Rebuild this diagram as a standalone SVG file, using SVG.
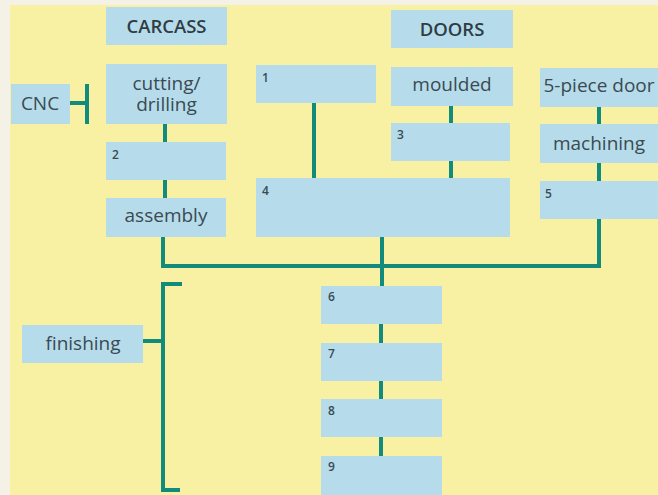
<svg xmlns="http://www.w3.org/2000/svg" width="658" height="495" viewBox="0 0 658 495">
<style>
.box{fill:#b6dceb}
.t{font-family:"Open Sans","Noto Sans",sans-serif;font-size:19px;fill:#3b4a52;text-anchor:middle}
.h{font-family:"Open Sans","Noto Sans",sans-serif;font-size:18.5px;font-weight:600;fill:#2f3c44;text-anchor:middle}
.n{font-family:"Open Sans","Noto Sans",sans-serif;font-size:12px;font-weight:600;fill:#3b4a52}
.c{stroke:#128a7c;stroke-width:4;fill:none}
</style>
<rect x="0" y="0" width="658" height="495" fill="#f4f2e6"/>
<rect x="10" y="5" width="648" height="490" fill="#f8f0a2"/>
<g id="connectors">
<path class="c" d="M65,103 H87 M87,84 V124"/>
<path class="c" d="M165,120 V145 M165,176 V202"/>
<path class="c" d="M314,99 V182"/>
<path class="c" d="M451,101 V127 M451,157 V183"/>
<path class="c" d="M599,102 V129 M599,159 V186"/>
<path class="c" d="M163,232 V266 H599 V215"/>
<path class="c" d="M382,233 V289"/>
<path class="c" d="M381,319 V347 M381,376 V403 M381,433 V459"/>
<path class="c" d="M138,341 H163 M182,284 H163 V490 H180"/>
</g>
<g id="carcass"><rect class="box" x="106" y="7" width="121" height="38"/><text class="h" x="166.5" y="33">CARCASS</text></g>
<g id="doors"><rect class="box" x="391" y="10" width="122" height="38"/><text class="h" x="452" y="36">DOORS</text></g>
<g id="cnc"><rect class="box" x="11" y="84" width="59" height="40"/><text class="t" x="40" y="110">CNC</text></g>
<g id="cutting"><rect class="box" x="106" y="64" width="121" height="60"/><text class="t" x="166.5" y="90">cutting/</text><text class="t" x="166.5" y="111">drilling</text></g>
<g id="n2"><rect class="box" x="106" y="142" width="120" height="38"/><text class="n" x="112" y="159">2</text></g>
<g id="assembly"><rect class="box" x="106" y="198" width="120" height="39"/><text class="t" x="166" y="222">assembly</text></g>
<g id="n1"><rect class="box" x="256" y="65" width="120" height="38"/><text class="n" x="262" y="82">1</text></g>
<g id="n4"><rect class="box" x="256" y="178" width="254" height="59"/><text class="n" x="262" y="195">4</text></g>
<g id="moulded"><rect class="box" x="391" y="67" width="122" height="39"/><text class="t" x="452" y="91">moulded</text></g>
<g id="n3"><rect class="box" x="391" y="123" width="119" height="38"/><text class="n" x="397" y="139">3</text></g>
<g id="fivepiece"><rect class="box" x="540" y="68" width="118" height="39"/><text class="t" x="599" y="92">5-piece door</text></g>
<g id="machining"><rect class="box" x="540" y="124" width="118" height="39"/><text class="t" x="599" y="150">machining</text></g>
<g id="n5"><rect class="box" x="540" y="181" width="118" height="38"/><text class="n" x="545" y="198">5</text></g>
<g id="n6"><rect class="box" x="321" y="286" width="121" height="38"/><text class="n" x="328" y="301">6</text></g>
<g id="n7"><rect class="box" x="321" y="343" width="121" height="38"/><text class="n" x="328" y="358">7</text></g>
<g id="n8"><rect class="box" x="321" y="399" width="121" height="38"/><text class="n" x="328" y="415">8</text></g>
<g id="n9"><rect class="box" x="321" y="456" width="121" height="39"/><text class="n" x="328" y="471">9</text></g>
<g id="finishing"><rect class="box" x="22" y="325" width="121" height="38"/><text class="t" x="83" y="350">finishing</text></g>
</svg>
